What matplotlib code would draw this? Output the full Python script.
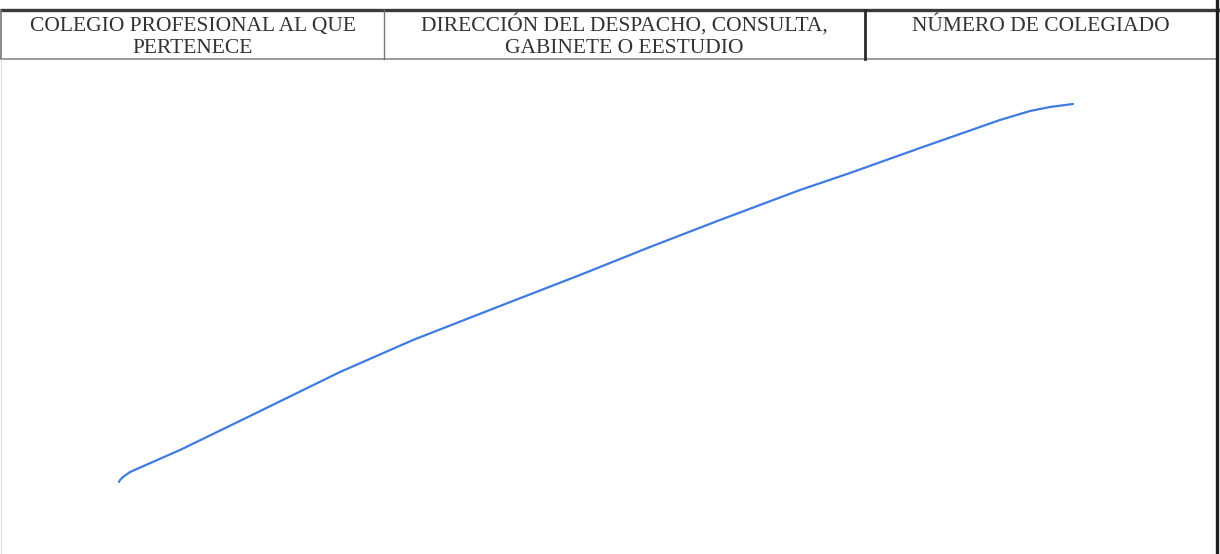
import matplotlib
matplotlib.use('Agg')
import matplotlib.pyplot as plt

# header cells of the form (one list per text line)
header_line1 = ['COLEGIO PROFESIONAL AL QUE', 'DIRECCIÓN DEL DESPACHO, CONSULTA,', 'NÚMERO DE COLEGIADO']
header_line2 = ['PERTENECE', 'GABINETE O EESTUDIO', '']
col_edges = [1, 384, 865, 1217]

# hand-drawn blue stroke (pixel positions)
stroke_x = [119, 120, 123, 130, 180, 250, 340, 413, 500, 580, 650, 720,
            800, 850, 920, 1000, 1030, 1050, 1073]
stroke_y = [482, 480, 477, 472, 450, 416, 372, 340, 306, 275, 247, 220,
            190, 173, 148, 120, 111, 107, 104]

W, H = 1220, 554
fig = plt.figure(figsize=(W / 100, H / 100), dpi=100)
ax = fig.add_axes([0, 0, 1, 1])
ax.set_xlim(0, W)
ax.set_ylim(H, 0)
ax.axis('off')

top, hdr_bottom = 10, 59

# table lines
ax.plot([0, W], [top, top], color='#3a3a3a', lw=2.4, solid_capstyle='butt')
ax.plot([0, col_edges[-1]], [hdr_bottom, hdr_bottom], color='#8a8a8a', lw=1.2)
ax.plot([col_edges[0], col_edges[0]], [top, hdr_bottom], color='#777777', lw=1.2)
ax.plot([col_edges[0], col_edges[0]], [hdr_bottom, H], color='#dddddd', lw=0.8)
ax.plot([col_edges[1], col_edges[1]], [top, hdr_bottom], color='#777777', lw=1.0)
ax.plot([col_edges[2], col_edges[2]], [top, hdr_bottom], color='#2a2a2a', lw=2.0)
ax.plot([col_edges[3], col_edges[3]], [0, H], color='#1e1e1e', lw=2.4)

for i in range(len(header_line1)):
    cx = (col_edges[i] + col_edges[i + 1]) / 2
    for txt, base in ((header_line1[i], 31), (header_line2[i], 53)):
        if txt:
            ax.text(cx, base, txt, ha='center', va='baseline', fontsize=15.5,
                    family='Liberation Serif', color='#333333')

ax.plot(stroke_x, stroke_y, color='#3f7be0', lw=1.6,
        solid_capstyle='round', solid_joinstyle='round')

fig.savefig('out.png', dpi=100, facecolor='white')
